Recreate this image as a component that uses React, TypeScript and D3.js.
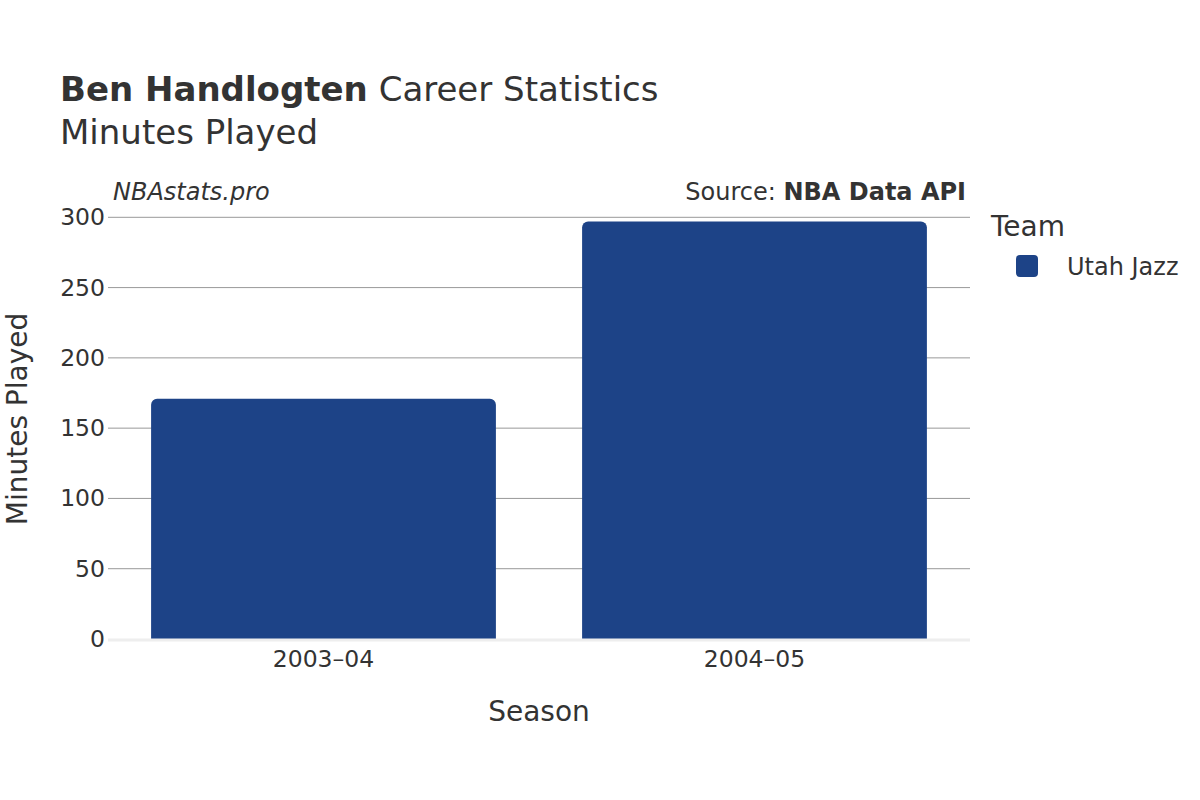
import React from "react";
import * as d3 from "d3";

const seasons = ["2003–04", "2004–05"];
const minutesPlayed = [171, 297];
const yTicks = [0, 50, 100, 150, 200, 250, 300];
const teamName = "Utah Jazz";
const barColor = "#1d4387";

export default function App() {
  const W = 1200, H = 800;
  const left = 108, right = 970, top = 217.3, bottom = 639;
  const x = d3.scaleBand<string>().domain(seasons).range([left, right]).paddingInner(0.2).paddingOuter(0.1);
  const y = d3.scaleLinear().domain([0, 300]).range([bottom, top]);
  const font = "'DejaVu Sans', sans-serif";
  const r = 6;
  const barPath = (x0: number, w: number, yTop: number, yBot: number) => {
    const p = d3.path();
    p.moveTo(x0, yBot);
    p.lineTo(x0, yTop + r);
    p.arcTo(x0, yTop, x0 + r, yTop, r);
    p.lineTo(x0 + w - r, yTop);
    p.arcTo(x0 + w, yTop, x0 + w, yTop + r, r);
    p.lineTo(x0 + w, yBot);
    p.closePath();
    return p.toString();
  };
  return (
    <svg width={W} height={H} style={{ position: "absolute", left: 0, top: 0, fontFamily: font }}>
      <rect width={W} height={H} fill="#fff" />
      <text x={60} y={101} fontSize={34} fill="#333">
        <tspan fontWeight="bold">Ben Handlogten</tspan> Career Statistics
      </text>
      <text x={60} y={144} fontSize={34} fill="#333">Minutes Played</text>
      <text x={113} y={200} fontSize={24} fill="#333" fontStyle="italic">NBAstats.pro</text>
      <text x={966} y={200} fontSize={24} fill="#333" textAnchor="end">
        Source: <tspan fontWeight="bold">NBA Data API</tspan>
      </text>
      {yTicks.filter(t => t > 0).map(t => (
        <line key={t} x1={left} x2={right} y1={y(t)} y2={y(t)} stroke="#999" strokeWidth={1} />
      ))}
      {seasons.map((s, i) => (
        <path key={s} d={barPath(x(s)!, x.bandwidth(), y(minutesPlayed[i]), y(0))} fill={barColor} />
      ))}
      <line x1={left} x2={right} y1={y(0) + 1} y2={y(0) + 1} stroke="#eee" strokeWidth={3} />
      {yTicks.map(t => (
        <text key={t} x={105} y={y(t) + 8} fontSize={23.5} fill="#333" textAnchor="end">{t}</text>
      ))}
      {seasons.map(s => (
        <text key={s} x={x(s)! + x.bandwidth() / 2} y={667} fontSize={23.5} fill="#333" textAnchor="middle">{s}</text>
      ))}
      <text x={539} y={721} fontSize={28} fill="#333" textAnchor="middle">Season</text>
      <text transform={`translate(27,419) rotate(-90)`} fontSize={28} fill="#333" textAnchor="middle">Minutes Played</text>
      <text x={991} y={236} fontSize={28} fill="#333">Team</text>
      <rect x={1016} y={255} width={22} height={22} rx={4} fill={barColor} />
      <text x={1067} y={275} fontSize={24} fill="#333">{teamName}</text>
    </svg>
  );
}
